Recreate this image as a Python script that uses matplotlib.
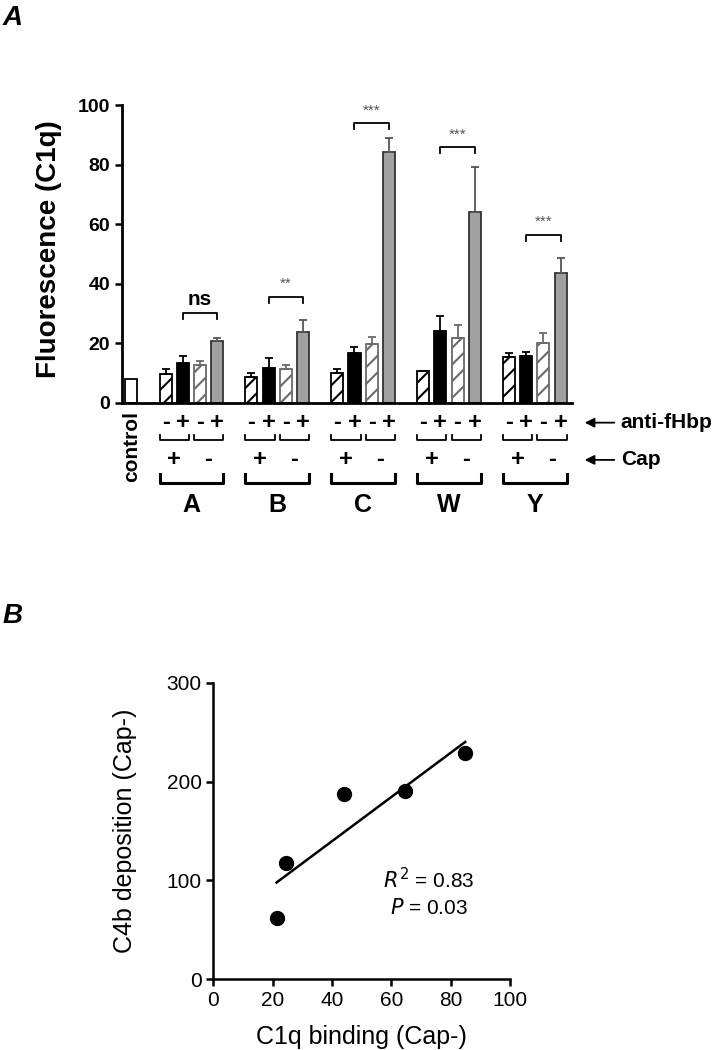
import numpy as np
import matplotlib
matplotlib.use("Agg")
import matplotlib.pyplot as plt
from matplotlib.transforms import blended_transform_factory

plt.rcParams['font.family'] = ['Liberation Sans', 'DejaVu Sans']
plt.rcParams['hatch.linewidth'] = 1.5

# panel A data
strains = ['A', 'B', 'C', 'W', 'Y']
control_val = 8.2
cap_pos_anti_neg = [9.7, 8.8, 10.2, 10.7, 15.3]
cap_pos_anti_neg_err = [1.7, 1.2, 1.1, 0.0, 1.4]
cap_pos_anti_pos = [13.4, 11.8, 16.7, 24.3, 15.8]
cap_pos_anti_pos_err = [2.4, 3.4, 2.0, 5.0, 1.4]
cap_neg_anti_neg = [12.7, 11.3, 19.8, 21.7, 20.2]
cap_neg_anti_neg_err = [1.5, 1.4, 2.5, 4.5, 3.2]
cap_neg_anti_pos = [20.8, 23.7, 84.3, 64.2, 43.7]
cap_neg_anti_pos_err = [1.0, 4.2, 4.5, 15.1, 5.1]
sig_labels = ['ns', '**', '***', '***', '***']
sig_heights = [30.2, 35.7, 93.8, 85.8, 56.4]
anti_row = ['-', '+', '-', '+']
cap_row = ['+', '-']

# panel B data
c1q_binding = [21.3, 24.4, 44.2, 64.6, 84.9]
c4b_deposition = [62.4, 118, 187, 190.8, 228.5]

fig = plt.figure(figsize=(7.19, 10.5), dpi=100)

# ---------------- panel A ----------------
ax = fig.add_axes([0.1697, 0.6162, 0.6259, 0.2838])
w = 0.7
series = [
    (cap_pos_anti_neg, cap_pos_anti_neg_err, dict(facecolor='white', edgecolor='black', hatch='//'), 'black'),
    (cap_pos_anti_pos, cap_pos_anti_pos_err, dict(facecolor='black', edgecolor='black'), 'black'),
    (cap_neg_anti_neg, cap_neg_anti_neg_err, dict(facecolor='white', edgecolor='#6a6a6a', hatch='//'), '#6a6a6a'),
    (cap_neg_anti_pos, cap_neg_anti_pos_err, dict(facecolor='#a0a0a0', edgecolor='#333333'), '#555555'),
]
group_x = np.arange(len(strains)) * 5 + 2
ax.bar([0], [control_val], width=w, facecolor='white', edgecolor='black', linewidth=1.3)
for k, (vals, errs, style, ecol) in enumerate(series):
    xs = group_x + k
    ax.bar(xs, vals, width=w, linewidth=1.3, **style)
    ax.errorbar(xs, vals, yerr=[np.zeros(len(errs)), errs], fmt='none',
                ecolor=ecol, elinewidth=1.3, capsize=3, capthick=1.3)

# significance brackets
for g, lab, h in zip(group_x, sig_labels, sig_heights):
    x1, x2 = g + 1, g + 3
    ax.plot([x1, x1, x2, x2], [h - 2, h, h, h - 2], color='black', lw=1.3)
    if lab == 'ns':
        ax.text((x1 + x2) / 2, h + 1.5, lab, ha='center', va='bottom', fontsize=15, fontweight='bold')
    else:
        ax.text((x1 + x2) / 2, h + 2.0, lab, ha='center', va='bottom', fontsize=11, color='#555555')

ax.set_xlim(-0.54, 25.67)
ax.set_ylim(0, 100)
ax.set_yticks([0, 20, 40, 60, 80, 100])
ax.tick_params(axis='y', labelsize=14, width=1.8, length=5)
for t in ax.get_yticklabels():
    t.set_fontweight('bold')
ax.set_xticks([])
for s in ['top', 'right']:
    ax.spines[s].set_visible(False)
for s in ['left', 'bottom']:
    ax.spines[s].set_linewidth(2)
ax.set_ylabel('Fluorescence (C1q)', fontsize=20, fontweight='bold')
ax.yaxis.set_label_coords(-0.133, 0.515)

# labels beneath the bars
tr = blended_transform_factory(ax.transData, ax.transAxes)
ax.text(0, -0.145, 'control', rotation=90, ha='center', va='center', fontsize=15,
        fontweight='bold', transform=tr)
for g, name in zip(group_x, strains):
    for k, sym in enumerate(anti_row):
        ax.text(g + k, -0.066, sym, ha='center', va='center', fontsize=17, fontweight='bold', transform=tr)
    for j, sym in enumerate(cap_row):
        xl, xr = g + 2 * j - w / 2, g + 2 * j + 1 + w / 2
        ax.plot([xl, xl, xr, xr], [-0.107, -0.124, -0.124, -0.107], color='black', lw=1.3,
                transform=tr, clip_on=False)
        ax.text(g + 2 * j + 0.5, -0.191, sym, ha='center', va='center', fontsize=17,
                fontweight='bold', transform=tr)
    xl, xr = g - w / 2, g + 3 + w / 2
    ax.plot([xl, xl, xr, xr], [-0.238, -0.268, -0.268, -0.238], color='black', lw=2.2,
            transform=tr, clip_on=False)
    ax.text(g + 1.5, -0.342, name, ha='center', va='center', fontsize=18, fontweight='bold',
            transform=tr)

for yy, lab in [(-0.066, 'anti-fHbp'), (-0.191, 'Cap')]:
    ax.annotate('', xy=(1.022, yy), xytext=(1.1, yy), xycoords='axes fraction',
                arrowprops=dict(arrowstyle='-|>', color='black', lw=1.3, mutation_scale=14))
    ax.text(1.108, yy, lab, transform=ax.transAxes, ha='left', va='center', fontsize=15,
            fontweight='bold')

fig.text(0.003, 0.995, 'A', fontsize=20, fontweight='bold', fontstyle='italic', va='top')

# ---------------- panel B ----------------
bx = fig.add_axes([0.2967, 0.0673, 0.4127, 0.2825])
bx.plot(c1q_binding, c4b_deposition, 'o', color='black', markersize=10)
slope, icpt = np.polyfit(c1q_binding, c4b_deposition, 1)
xl = np.array([min(c1q_binding), max(c1q_binding)])
bx.plot(xl, slope * xl + icpt, color='black', lw=1.8)
r2 = np.corrcoef(c1q_binding, c4b_deposition)[0, 1] ** 2
bx.text(72.7, 100.4, r'$R^2$' + ' = %.2f' % r2, ha='center', va='center', fontsize=15)
bx.text(72.7, 72.1, r'$P$' + ' = 0.03', ha='center', va='center', fontsize=15)
bx.set_xlim(0, 100)
bx.set_ylim(0, 300)
bx.set_xticks([0, 20, 40, 60, 80, 100])
bx.set_yticks([0, 100, 200, 300])
bx.tick_params(labelsize=15, width=1.8, length=5)
for s in ['top', 'right']:
    bx.spines[s].set_visible(False)
for s in ['left', 'bottom']:
    bx.spines[s].set_linewidth(1.8)
bx.set_xlabel('C1q binding (Cap-)', fontsize=18)
bx.set_ylabel('C4b deposition (Cap-)', fontsize=18)
bx.xaxis.set_label_coords(0.5, -0.155)
bx.yaxis.set_label_coords(-0.257, 0.5)

fig.text(0.003, 0.4257, 'B', fontsize=20, fontweight='bold', fontstyle='italic', va='top')

fig.savefig('out.png', dpi=100)
